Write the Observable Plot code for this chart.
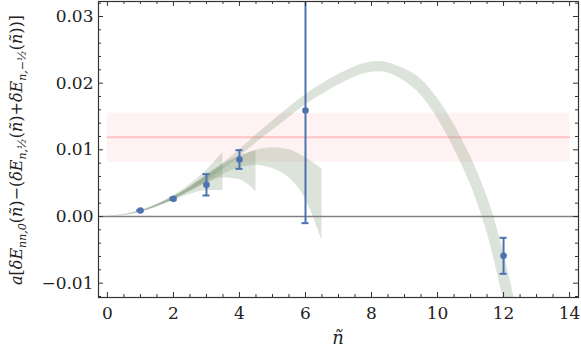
<!DOCTYPE html>
<html><head><meta charset="utf-8">
<script src="https://cdn.jsdelivr.net/npm/d3@7"></script>
<script src="https://cdn.jsdelivr.net/npm/@observablehq/plot@0.6"></script>
<style>body{margin:0;background:#fff} svg{display:block}</style>
</head><body><div id="chart"></div>
<script>
// Lattice data points with error bars
const ptsN   = [1, 2, 3, 4, 6, 12];
const ptsY   = [0.0009, 0.00265, 0.00475, 0.00855, 0.0159, -0.0059];
const ptsErr = [0.00008, 0.00018, 0.0016, 0.0014, 0.0169, 0.0027];

// Red reference band
const redN   = [0, 14];
const redMid = [0.0119, 0.0119];
const redLo  = [0.00815, 0.00815];
const redHi  = [0.0155, 0.0155];

// Large grey-green fit band (centre and half-width)
const bigN    = [0,0.5,1,1.5,2,2.5,3,3.5,4,4.5,5,5.5,6,6.5,7,7.5,8,8.5,9,9.5,10,10.5,11,11.25,11.5,11.75,12,12.25,12.5];
const bigMid  = [0,0.0002,0.0007,0.0016,0.0027,0.0041,0.0057,0.0075,0.0095,0.0116,0.0136,0.0156,0.0175,0.0191,0.0205,0.0217,0.0224,0.0223,0.0212,0.0194,0.0162,0.0120,0.0069,0.0038,0.0003,-0.0040,-0.0090,-0.0145,-0.0205];
const bigHalf = [0,0.00005,0.00008,0.00014,0.0002,0.00029,0.00036,0.00045,0.00053,0.0006,0.00068,0.00074,0.00078,0.00079,0.00079,0.00077,0.00077,0.00078,0.00092,0.0012,0.0015,0.0018,0.0021,0.0024,0.0027,0.0032,0.0036,0.0039,0.0042];

// Smaller fit fans
const fanAN  = [0, 1, 2, 2.5, 3, 3.5];
const fanALo = [0, 0.0006, 0.0024, 0.0033, 0.0039, 0.0039];
const fanAHi = [0, 0.0009, 0.0031, 0.0048, 0.0069, 0.0096];

const fanBN  = [0, 1, 2, 2.5, 3, 3.5, 4, 4.5];
const fanBLo = [0, 0.0007, 0.0025, 0.0037, 0.0049, 0.0058, 0.0055, 0.0037];
const fanBHi = [0, 0.0008, 0.0030, 0.0043, 0.0062, 0.0079, 0.0091, 0.0099];

const fanCN  = [0, 1, 2, 3, 3.5, 4, 4.5, 5, 5.5, 6, 6.5];
const fanCLo = [0, 0.0007, 0.0026, 0.0051, 0.0063, 0.0073, 0.0077, 0.0072, 0.0058, 0.0026, -0.0036];
const fanCHi = [0, 0.0008, 0.0029, 0.0061, 0.0076, 0.0089, 0.0099, 0.0103, 0.0100, 0.0088, 0.0071];

// Axis ticks
const xMajor = [0, 2, 4, 6, 8, 10, 12, 14];
const xMinor = [0.5,1,1.5,2.5,3,3.5,4.5,5,5.5,6.5,7,7.5,8.5,9,9.5,10.5,11,11.5,12.5,13,13.5];
const yMajor = [-0.01, 0, 0.01, 0.02, 0.03];
const yMinor = [-0.012,-0.008,-0.006,-0.004,-0.002,0.002,0.004,0.006,0.008,0.012,0.014,0.016,0.018,0.022,0.024,0.026,0.028,0.032];

const W = 581, H = 359, mL = 98, mR = 3, mT = 1, mB = 62;
const iw = W - mL - mR, ih = H - mT - mB;

const pts = ptsN.map((n, i) => ({n, y: ptsY[i], lo: ptsY[i] - ptsErr[i], hi: ptsY[i] + ptsErr[i]}));
const redT = redN.map((n, i) => ({n, mid: redMid[i], lo: redLo[i], hi: redHi[i]}));
const bigT = bigN.map((n, i) => ({n, lo: bigMid[i] - bigHalf[i], hi: bigMid[i] + bigHalf[i]}));
const fan = (N, L, U) => N.map((n, i) => ({n, lo: L[i], hi: U[i]}));
const fanA = fan(fanAN, fanALo, fanAHi), fanB = fan(fanBN, fanBLo, fanBHi), fanC = fan(fanCN, fanCLo, fanCHi);

const green = "#758f6c", blue = "#4c72b0", ink = "#333";
const fmtY = d => (d < 0 ? "\u2212" : "") + Math.abs(d).toFixed(2);
const greenArea = (data, curve) => Plot.areaY(data, {x: "n", y1: "lo", y2: "hi", fill: green, fillOpacity: 0.25, curve, clip: true});

const chart = Plot.plot({
  width: W, height: H,
  marginLeft: mL, marginRight: mR, marginTop: mT, marginBottom: mB,
  style: {fontFamily: "DejaVu Serif", fontSize: "17px", background: "white", color: "#222"},
  x: {domain: [-0.27, 14.27]},
  y: {domain: [-0.01215, 0.03225]},
  marks: [
    Plot.areaY(redT, {x: "n", y1: "lo", y2: "hi", fill: "#ff0000", fillOpacity: 0.05}),
    Plot.lineY(redT, {x: "n", y: "mid", stroke: "#ff0000", strokeOpacity: 0.2, strokeWidth: 2}),
    greenArea(bigT, "natural"),
    greenArea(fanA, "monotone-x"),
    greenArea(fanB, "monotone-x"),
    greenArea(fanC, "monotone-x"),
    Plot.ruleY([0], {stroke: "#808080", strokeWidth: 1.3}),
    Plot.ruleX(pts, {x: "n", y1: "lo", y2: "hi", stroke: blue, strokeWidth: 2, clip: true}),
    Plot.ruleY(pts, {y: "lo", x1: "n", x2: "n", insetLeft: -3.5, insetRight: -3.5, stroke: blue, strokeWidth: 2, clip: true}),
    Plot.ruleY(pts, {y: "hi", x1: "n", x2: "n", insetLeft: -3.5, insetRight: -3.5, stroke: blue, strokeWidth: 2, clip: true}),
    Plot.dot(pts, {x: "n", y: "y", r: 3.3, fill: blue, stroke: null}),
    // inward ticks on all four sides
    Plot.ruleX(xMajor, {stroke: ink, insetTop: ih - 5}),
    Plot.ruleX(xMajor, {stroke: ink, insetBottom: ih - 5}),
    Plot.ruleX(xMinor, {stroke: ink, insetTop: ih - 3}),
    Plot.ruleX(xMinor, {stroke: ink, insetBottom: ih - 3}),
    Plot.ruleY(yMajor, {stroke: ink, insetRight: iw - 5}),
    Plot.ruleY(yMajor, {stroke: ink, insetLeft: iw - 5}),
    Plot.ruleY(yMinor, {stroke: ink, insetRight: iw - 3}),
    Plot.ruleY(yMinor, {stroke: ink, insetLeft: iw - 3}),
    Plot.frame({stroke: ink, strokeWidth: 1.2}),
    Plot.axisX(xMajor, {tickSize: 0, tickPadding: 9, tickFormat: d => String(d), label: null, fontSize: 17}),
    Plot.axisY(yMajor, {tickSize: 0, tickPadding: 5, tickFormat: fmtY, label: null, fontSize: 17})
  ]
});
document.getElementById("chart").appendChild(chart);

// Axis titles (math text)
const svg = d3.select(chart);
svg.append("text")
  .attr("x", (mL + W - mR) / 2).attr("y", 344)
  .attr("text-anchor", "middle")
  .style("font-family", "DejaVu Serif").style("font-style", "italic").style("font-size", "18px")
  .attr("fill", "#222").text("\u00f1");

const yl = svg.append("text")
  .attr("transform", "translate(22,150) rotate(-90)")
  .attr("text-anchor", "middle")
  .style("font-family", "DejaVu Serif").style("font-size", "16px")
  .attr("fill", "#222");
let shifted = false;
function seg(t, italic, sub) {
  const ts = yl.append("tspan").text(t).style("font-style", italic ? "italic" : "normal");
  if (sub && !shifted) { ts.attr("dy", 4); shifted = true; }
  else if (!sub && shifted) { ts.attr("dy", -4); shifted = false; }
  if (sub) ts.style("font-size", "11px");
}
seg("a", true); seg("[", false); seg("\u03b4E", true); seg("nn,0", true, true);
seg("(", false); seg("\u00f1", true); seg(")\u2212(", false);
seg("\u03b4E", true); seg("n,\u00bd", true, true);
seg("(", false); seg("\u00f1", true); seg(")+", false);
seg("\u03b4E", true); seg("n,\u2212\u00bd", true, true);
seg("(", false); seg("\u00f1", true); seg("))]", false);
</script>
</body></html>
